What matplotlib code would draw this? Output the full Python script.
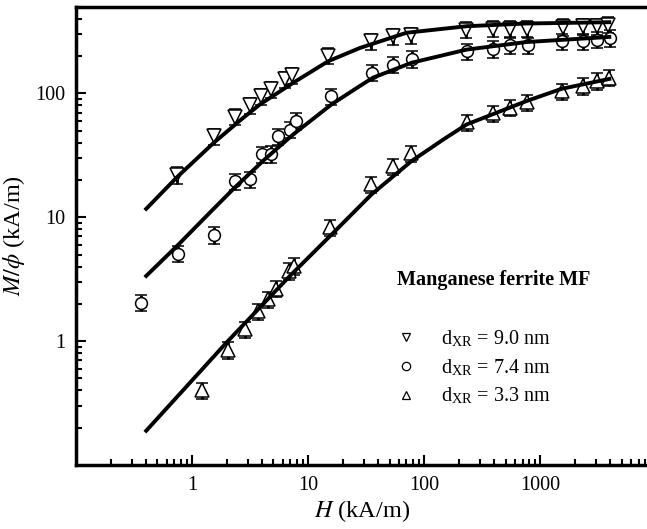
import numpy as np
import matplotlib.pyplot as plt
from matplotlib.lines import Line2D

plt.rcParams['font.family'] = ['Liberation Serif', 'DejaVu Serif']
plt.rcParams['mathtext.fontset'] = 'stix'

# dane pomiarowe: H (kA/m), M/phi (kA/m)
H_90 = [0.73, 1.53, 2.32, 3.13, 3.89, 4.72, 6.27, 7.25, 14.8, 34.4, 53.2, 76.5,
        228, 387, 546, 769, 1550, 2340, 3050, 3840]
M_90 = [22, 45, 65, 80, 95, 108, 130, 140, 202, 264, 290, 294,
        328, 333, 333, 333, 345, 349, 350, 360]

H_74 = [0.36, 0.755, 1.53, 2.32, 3.13, 3.95, 4.8, 5.49, 6.9, 7.8, 15.8, 35, 53.8,
        77.6, 231, 387, 546, 780, 1520, 2340, 3050, 3980]
M_74 = [2.05, 5.1, 7.2, 19.6, 20.2, 32.2, 32.5, 45.3, 51, 60, 95, 147, 171,
        190, 219, 229, 244, 244, 264, 264, 272, 281]

H_33 = [1.22, 2.04, 2.84, 3.69, 4.5, 5.25, 6.83, 7.55, 15.3, 34.4, 53.8, 76.5,
        231, 387, 546, 769, 1520, 2340, 3050, 3920]
M_33 = [0.40, 0.85, 1.25, 1.75, 2.18, 2.66, 3.69, 4.05, 8.3, 18.5, 25.9, 32.8,
        58.7, 69, 76.7, 85, 104, 115, 126, 134]

rel_err = 0.15  # niepewnosc wzgledna

# krzywe dopasowania
fit_H_90 = [0.40, 0.73, 1.53, 2.6, 3.82, 7.4, 14.8, 27.8, 70, 231, 755, 3920]
fit_M_90 = [11.7, 20.9, 40, 61, 81.5, 122, 182, 233, 309, 349, 367, 376]

fit_H_74 = [0.40, 0.755, 1.4, 2.32, 4.21, 7.4, 15.8, 27.8, 36, 77.6, 231, 755, 3920]
fit_M_74 = [3.36, 6.0, 10.8, 17.4, 29.4, 46.7, 81.5, 115, 134, 177, 226, 260, 286]

fit_H_33 = [0.40, 1.97, 6.92, 16.4, 35, 77.6, 150, 231, 755, 1520, 3920]
fit_M_33 = [0.189, 0.975, 3.36, 7.5, 15.3, 28.5, 43.3, 56.2, 86.7, 109, 131]

fig = plt.figure(figsize=(6.47, 5.29), dpi=100)
ax = fig.add_axes([0.118, 0.121, 0.882, 0.866])

for fh, fm in [(fit_H_90, fit_M_90), (fit_H_74, fit_M_74), (fit_H_33, fit_M_33)]:
    ax.plot(fh, fm, color='black', lw=2.8, zorder=3)

for h, m, mk in [(H_90, M_90, 'v'), (H_74, M_74, 'o'), (H_33, M_33, '^')]:
    m = np.array(m)
    ax.errorbar(h, m, yerr=m * rel_err, fmt=mk, ms=10 if mk != 'o' else 8.5,
                mfc='white', mec='black', mew=1.1, ecolor='black',
                elinewidth=2, capsize=4.5, capthick=3.5, zorder=2)

ax.set_xscale('log')
ax.set_yscale('log')
ax.set_xlim(0.1, 8280)
ax.set_ylim(0.1, 500)
ax.set_xticks([1, 10, 100, 1000])
ax.set_xticklabels(['1', '10', '100', '1000'])
ax.set_yticks([1, 10, 100])
ax.set_yticklabels(['1', '10', '100'])

ax.spines['right'].set_visible(False)
for s in ['left', 'bottom', 'top']:
    ax.spines[s].set_linewidth(2.5)
ax.tick_params(which='major', direction='in', length=7, width=1.5, labelsize=14.5,
               top=False, right=False, pad=8)
ax.tick_params(which='minor', direction='in', length=4, width=1.5,
               top=False, right=False)

ax.set_xlabel(r'$H$ (kA/m)', fontsize=17.5, labelpad=2)
ax.set_ylabel(r'$M/\phi$ (kA/m)', fontsize=17.5, labelpad=6)

ax.text(0.732, 0.404, 'Manganese ferrite MF', transform=ax.transAxes,
        fontsize=14.5, fontweight='bold', ha='center', va='center')

handles = [Line2D([], [], ls='none', marker=mk, ms=6, mfc='white', mec='black', mew=0.9)
           for mk in ['v', 'o', '^']]
labels = [r'd$_{\mathregular{XR}}$ = 9.0 nm', r'd$_{\mathregular{XR}}$ = 7.4 nm',
          r'd$_{\mathregular{XR}}$ = 3.3 nm']
ax.legend(handles, labels, loc='upper left', bbox_to_anchor=(0.533, 0.32),
          frameon=False, fontsize=14.5, handletextpad=1.0, labelspacing=0.4,
          borderpad=0, handlelength=1.5)

plt.savefig('out.png', dpi=100)
